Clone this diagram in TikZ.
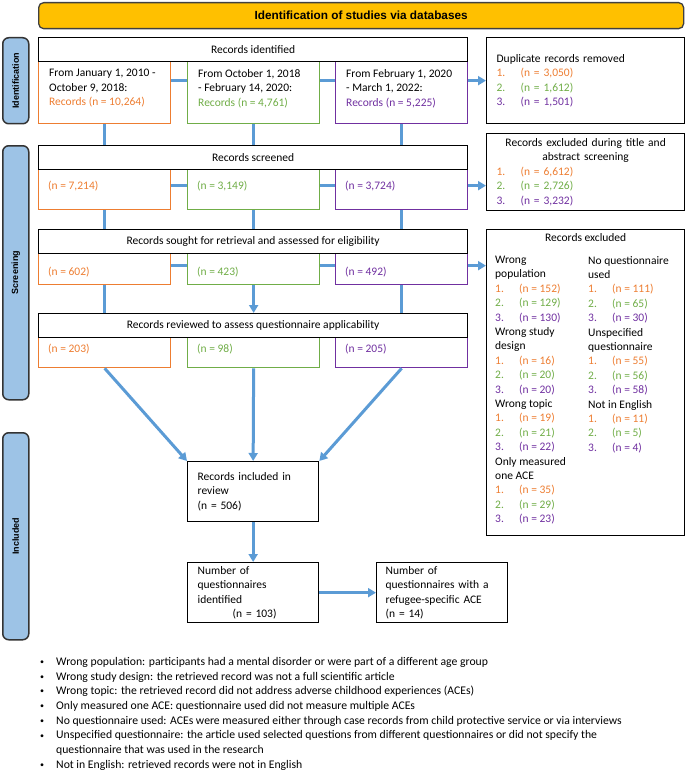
\documentclass[tikz,border=0pt]{standalone}
\usepackage{fontspec}
\setmainfont{Carlito}
\newfontfamily\arialfont{Liberation Sans}
\usetikzlibrary{positioning,arrows.meta}
\definecolor{orangeA}{HTML}{ED7D31}
\definecolor{greenA}{HTML}{70AD47}
\definecolor{purpleA}{HTML}{7030A0}
\definecolor{flowblue}{HTML}{5B9BD5}
\definecolor{sidefill}{HTML}{9DC3E6}
\definecolor{titlefill}{HTML}{FFC000}
\newcommand{\cnt}[3]{\textcolor{#1}{\makebox[24pt][l]{#2.}(n = #3)}}
\newcommand{\bul}{\makebox[16pt][l]{\raisebox{0.8pt}{\fontsize{8}{8}\selectfont •}}}

\begin{document}
\begin{tikzpicture}[
  x=1pt, y=-1pt, font=\fontsize{11.5}{14.5}\selectfont,
  hdr/.style={draw, line width=1.3pt, minimum width=429pt, minimum height=24pt, inner sep=0pt, anchor=north west},
  sub/.style={draw=#1, line width=1.3pt, minimum width=132pt, inner sep=0pt, anchor=north west},
  txt/.style={align=left, inner sep=0pt},
  plainbox/.style={draw, line width=1.3pt, anchor=north west, align=left, inner xsep=10pt, inner ysep=0pt},
  side/.style={draw=black!80, fill=sidefill, rounded corners=6pt, line width=1.5pt, minimum width=26pt, inner sep=0pt, anchor=north west},
  sidetxt/.style={font=\arialfont\bfseries\fontsize{9}{10}\selectfont, inner sep=0pt},
  flow/.style={flowblue, line width=3pt},
  flowarrow/.style={flow, -{Triangle[length=8pt,width=9pt]}}
]
  \useasboundingbox (0,0) rectangle (685,773);

  % phase labels
  \node[side, minimum height=86pt] (lid) at (2,37) {};
  \node[side, minimum height=254pt] (lsc) at (2,145) {};
  \node[side, minimum height=207pt] (lin) at (2,432) {};
  \node[sidetxt, rotate=90] (lidt) at (lid.center) {Identification};
  \node[sidetxt, rotate=90] (lsct) at (lsc.center) {Screening};
  \node[sidetxt, rotate=90] (lint) at (lin.center) {Included};

  \node[draw=black!75, fill=titlefill, rounded corners=5pt, line width=1.3pt, minimum width=645pt, minimum height=26pt, anchor=north west, font=\arialfont\bfseries\fontsize{11.8}{14}\selectfont] (title) at (38,2) {Identification of studies via databases};

  % database boxes
  \node[sub=orangeA, minimum height=62pt] (i1) at (38,61) {};
  \node[sub=greenA, minimum height=62pt] (i2) at (187,61) {};
  \node[sub=purpleA, minimum height=62pt] (i3) at (335,61) {};
  \node[sub=orangeA, minimum height=40pt] (s1) at (38,169) {};
  \node[sub=greenA, minimum height=40pt] (s2) at (187,169) {};
  \node[sub=purpleA, minimum height=40pt] (s3) at (335,169) {};
  \node[sub=orangeA, minimum height=31pt] (o1) at (38,253) {};
  \node[sub=greenA, minimum height=31pt] (o2) at (187,253) {};
  \node[sub=purpleA, minimum height=31pt] (o3) at (335,253) {};
  \node[sub=orangeA, minimum height=30pt] (r1) at (38,337) {};
  \node[sub=greenA, minimum height=30pt] (r2) at (187,337) {};
  \node[sub=purpleA, minimum height=30pt] (r3) at (335,337) {};

  \node[hdr] (hid) at (38,37) {Records identified};
  \node[hdr] (hsc) at (38,145) {Records screened};
  \node[hdr] (hso) at (38,229) {Records sought for retrieval and assessed for eligibility};
  \node[hdr] (hre) at (38,313) {Records reviewed to assess questionnaire applicability};

  \node[txt, below right=8pt and 11pt of i1.north west] (i1t) {From January 1, 2010 -\\October 9, 2018:\\\textcolor{orangeA}{Records (n = 10,264)}};
  \node[txt, below right=8pt and 11pt of i2.north west] (i2t) {From October 1, 2018\\- February 14, 2020:\\\textcolor{greenA}{Records (n = 4,761)}};
  \node[txt, below right=8pt and 11pt of i3.north west] (i3t) {From February 1, 2020\\- March 1, 2022:\\\textcolor{purpleA}{Records (n = 5,225)}};
  \node[txt, below right=12pt and 10pt of s1.north west, text=orangeA] (s1t) {(n = 7,214)};
  \node[txt, below right=12pt and 10pt of s2.north west, text=greenA] (s2t) {(n = 3,149)};
  \node[txt, below right=12pt and 10pt of s3.north west, text=purpleA] (s3t) {(n = 3,724)};
  \node[txt, below right=14pt and 10pt of o1.north west, text=orangeA] (o1t) {(n = 602)};
  \node[txt, below right=14pt and 10pt of o2.north west, text=greenA] (o2t) {(n = 423)};
  \node[txt, below right=14pt and 10pt of o3.north west, text=purpleA] (o3t) {(n = 492)};
  \node[txt, below right=7pt and 10pt of r1.north west, text=orangeA] (r1t) {(n = 203)};
  \node[txt, below right=7pt and 10pt of r2.north west, text=greenA] (r2t) {(n = 98)};
  \node[txt, below right=7pt and 10pt of r3.north west, text=purpleA] (r3t) {(n = 205)};

  % exclusion boxes
  \node[plainbox, text width=178pt, minimum height=86pt] (dup) at (486,37) {Duplicate records removed\\\cnt{orangeA}{1}{3,050}\\\cnt{greenA}{2}{1,612}\\\cnt{purpleA}{3}{1,501}};
  \node[plainbox, text width=178pt, minimum height=77pt] (exs) at (486,133) {\makebox[178pt]{Records excluded during title and}\\\makebox[178pt]{abstract screening}\\\cnt{orangeA}{1}{6,612}\\\cnt{greenA}{2}{2,726}\\\cnt{purpleA}{3}{3,232}};
  \node[plainbox, text width=178pt, minimum height=306pt] (exr) at (486,229) {};
  \node[txt, below=4pt of exr.north] (exrt) {Records excluded};
  \node[txt, below right=27pt and 9pt of exr.north west, font=\fontsize{11.5}{14.4}\selectfont] (exrl) {Wrong\\population\\\cnt{orangeA}{1}{152}\\\cnt{greenA}{2}{129}\\\cnt{purpleA}{3}{130}\\Wrong study\\design\\\cnt{orangeA}{1}{16}\\\cnt{greenA}{2}{20}\\\cnt{purpleA}{3}{20}\\Wrong topic\\\cnt{orangeA}{1}{19}\\\cnt{greenA}{2}{21}\\\cnt{purpleA}{3}{22}\\Only measured\\one ACE\\\cnt{orangeA}{1}{35}\\\cnt{greenA}{2}{29}\\\cnt{purpleA}{3}{23}};
  \node[txt, below right=27pt and 102pt of exr.north west, font=\fontsize{11.5}{14.4}\selectfont] (exrr) {No questionnaire\\used\\\cnt{orangeA}{1}{111}\\\cnt{greenA}{2}{65}\\\cnt{purpleA}{3}{30}\\Unspecified\\questionnaire\\\cnt{orangeA}{1}{55}\\\cnt{greenA}{2}{56}\\\cnt{purpleA}{3}{58}\\Not in English\\\cnt{orangeA}{1}{11}\\\cnt{greenA}{2}{5}\\\cnt{purpleA}{3}{4}};

  % included
  \node[plainbox, text width=111pt, minimum height=60pt] (inc) at (187,461) {Records included in\\review\\(n = 506)};
  \node[plainbox, text width=111pt, minimum height=60pt] (qn) at (187,562) {Number of\\questionnaires\\identified\\\hspace*{35pt}(n = 103)};
  \node[plainbox, text width=113pt, minimum height=60pt, inner xsep=9pt] (qr) at (376,562) {Number of\\questionnaires with a\\refugee-specific ACE\\(n = 14)};

  % connectors
  \draw[flow] ([yshift=12pt]i1.east) -- ([yshift=12pt]i2.west);
  \draw[flow] ([yshift=12pt]i2.east) -- ([yshift=12pt]i3.west);
  \draw[flowarrow] ([yshift=12pt]i3.east) -- ([yshift=12pt]i3.east -| dup.west);
  \draw[flow] (i1.south) -- (i1.south |- hsc.north);
  \draw[flow] (i2.south) -- (i2.south |- hsc.north);
  \draw[flow] (i3.south) -- (i3.south |- hsc.north);
  \draw[flow] ([yshift=4pt]s1.east) -- ([yshift=4pt]s2.west);
  \draw[flow] ([yshift=4pt]s2.east) -- ([yshift=4pt]s3.west);
  \draw[flowarrow] ([yshift=4pt]s3.east) -- ([yshift=4pt]s3.east -| exs.west);
  \draw[flow] (s1.south) -- (s1.south |- hso.north);
  \draw[flow] (s2.south) -- (s2.south |- hso.north);
  \draw[flow] (s3.south) -- (s3.south |- hso.north);
  \draw[flow] ([yshift=3.5pt]o1.east) -- ([yshift=3.5pt]o2.west);
  \draw[flow] ([yshift=3.5pt]o2.east) -- ([yshift=3.5pt]o3.west);
  \draw[flowarrow] ([yshift=3.5pt]o3.east) -- ([yshift=3.5pt]o3.east -| exr.west);
  \draw[flow] (o1.south) -- (o1.south |- hre.north);
  \draw[flowarrow] (o2.south) -- (o2.south |- hre.north);
  \draw[flow] (o3.south) -- (o3.south |- hre.north);
  \draw[flowarrow] (r1.south) -- (inc.north west);
  \draw[flowarrow] (r2.south) -- (inc.north);
  \draw[flowarrow] (r3.south) -- (inc.north east);
  \draw[flowarrow] (inc.south) -- (qn.north);
  \draw[flowarrow] (qn.east) -- (qr.west);

  % definitions
  \node[txt, anchor=north west, font=\fontsize{11.7}{14.7}\selectfont] (notes) at (40,657) {%
    \bul Wrong population: participants had a mental disorder or were part of a different age group\\
    \bul Wrong study design: the retrieved record was not a full scientific article\\
    \bul Wrong topic: the retrieved record did not address adverse childhood experiences (ACEs)\\
    \bul Only measured one ACE: questionnaire used did not measure multiple ACEs\\
    \bul No questionnaire used: ACEs were measured either through case records from child protective service or via interviews\\
    \bul Unspecified questionnaire: the article used selected questions from different questionnaires or did not specify the\\
    \hspace*{16pt}questionnaire that was used in the research\\
    \bul Not in English: retrieved records were not in English};
\end{tikzpicture}
\end{document}
